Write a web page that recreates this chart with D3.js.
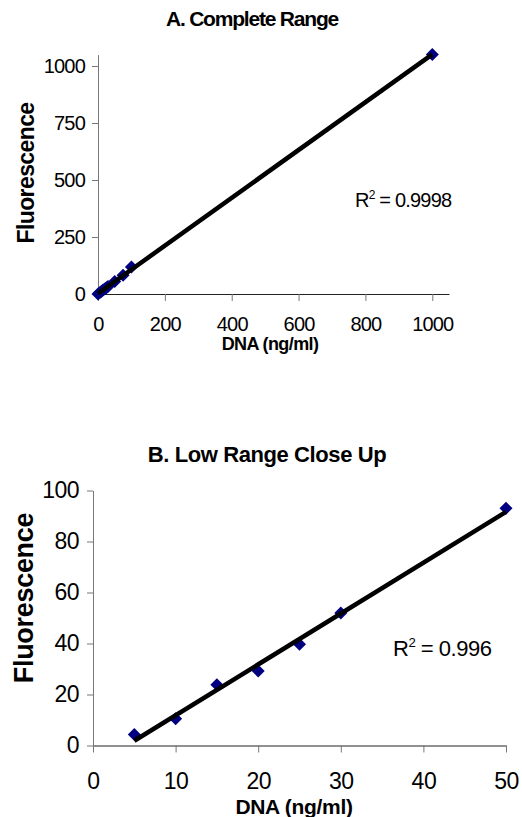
<!DOCTYPE html>
<html><head><meta charset="utf-8">
<script src="https://cdn.jsdelivr.net/npm/d3@7"></script>
<style>
body{margin:0;background:#fff;}
svg{display:block;font-family:"Liberation Sans",Arial,sans-serif;}
</style></head>
<body>
<svg id="c" width="522" height="817"></svg>
<script>
// Panel A: complete range
const dnaA = [0, 5, 10, 15, 20, 25, 30, 50, 75, 100, 1000];
const fluorA = [0, 5, 11, 17, 22, 27, 33, 55, 82, 118, 1050];
const xTicksA = [0, 200, 400, 600, 800, 1000];
const yTicksA = [0, 250, 500, 750, 1000];
const r2A = "0.9998";
const titleA = "A. Complete Range";

// Panel B: low range close up
const dnaB = [5, 10, 15, 20, 25, 30, 50];
const fluorB = [4.3, 10.5, 23.8, 29.2, 39.7, 52, 93];
const xTicksB = [0, 10, 20, 30, 40, 50];
const yTicksB = [0, 20, 40, 60, 80, 100];
const r2B = "0.996";
const titleB = "B. Low Range Close Up";

const xLabel = "DNA (ng/ml)";
const yLabel = "Fluorescence";

const svg = d3.select("#c");

function fit(xs, ys){
  const mx = d3.mean(xs), my = d3.mean(ys);
  let sxx = 0, sxy = 0;
  xs.forEach((x,i)=>{ sxx += (x-mx)*(x-mx); sxy += (x-mx)*(ys[i]-my); });
  const b = sxy/sxx; return {b, a: my - b*mx};
}

function panel(o){
  const g = svg.append("g");
  const x = d3.scaleLinear().domain(o.xd).range(o.xr);
  const y = d3.scaleLinear().domain(o.yd).range(o.yr);
  const fmt = d3.format("d");

  const ax = g.append("g").attr("transform",`translate(0,${o.yr[0]})`)
    .call(d3.axisBottom(x).tickValues(o.xt).tickFormat(fmt).tickSize(7).tickPadding(o.xpad).tickSizeOuter(0));
  ax.select(".domain").attr("stroke","#222");
  ax.selectAll(".tick line").attr("stroke","#777");
  ax.selectAll("text").attr("font-size",o.tf).attr("letter-spacing",o.ls).attr("fill","#000");

  const ay = g.append("g").attr("transform",`translate(${o.xr[0]},0)`)
    .call(d3.axisLeft(y).tickValues(o.yt).tickFormat(fmt).tickSize(6).tickPadding(o.ypad).tickSizeOuter(0));
  ay.select(".domain").attr("stroke","#777");
  ay.selectAll(".tick line").attr("stroke","#777");
  ay.selectAll("text").attr("font-size",o.tf).attr("letter-spacing",o.ls).attr("fill","#000");

  const s = 6.5;
  g.append("g").selectAll("path").data(o.xs).join("path")
    .attr("d",`M0,${-s}L${s},0L0,${s}L${-s},0Z`)
    .attr("transform",(d,i)=>`translate(${x(d)},${y(o.ys[i])})`)
    .attr("fill","#000080");

  const f = fit(o.xs,o.ys);
  const x0 = d3.min(o.xs), x1 = d3.max(o.xs);
  g.append("line")
    .attr("x1",x(x0)).attr("y1",y(f.a+f.b*x0))
    .attr("x2",x(x1)).attr("y2",y(f.a+f.b*x1))
    .attr("stroke","#000").attr("stroke-width",4.5);

  g.append("text").attr("x",o.title[0]).attr("y",o.title[1]).attr("text-anchor","middle")
    .attr("font-weight","bold").attr("font-size",o.titleF).attr("letter-spacing",o.tls).text(o.t);
  g.append("text").attr("x",o.xl[0]).attr("y",o.xl[1]).attr("text-anchor","middle")
    .attr("font-weight","bold").attr("font-size",o.labF).attr("letter-spacing",o.lls).text(xLabel);
  g.append("text").attr("transform",`translate(${o.yl[0]},${o.yl[1]}) rotate(-90)`).attr("text-anchor","middle")
    .attr("font-weight","bold").attr("font-size",o.ylabF).attr("letter-spacing",o.lls).text(yLabel);
  const r = g.append("text").attr("x",o.r2[0]).attr("y",o.r2[1]).attr("font-size",o.rF).attr("letter-spacing",o.ls);
  r.append("tspan").text("R");
  r.append("tspan").attr("font-size",o.rF*0.6).attr("dy",-o.rF*0.4).text("2");
  r.append("tspan").attr("dy",o.rF*0.4).text(" = " + o.r2v);
}

panel({xs:dnaA, ys:fluorA, xd:[0,1050], xr:[98,449], yd:[0,1050], yr:[294,54.6],
  xt:xTicksA, yt:yTicksA, xpad:16, ypad:7, tf:20, ls:-0.8,
  t:titleA, title:[252,26], titleF:21, tls:-1.2, xl:[270,350], labF:18, lls:-0.6, yl:[34,173], ylabF:23,
  r2:[355,207], rF:20, r2v:r2A});

panel({xs:dnaB, ys:fluorB, xd:[0,50], xr:[93,506], yd:[0,100], yr:[745.5,490.5],
  xt:xTicksB, yt:yTicksB, xpad:20, ypad:8, tf:23, ls:-0.5,
  t:titleB, title:[267,462], titleF:22, tls:-0.4, xl:[294,814], labF:21, lls:-0.3, yl:[33,598], ylabF:27,
  r2:[393,656], rF:22, r2v:r2B});
</script>
</body></html>
